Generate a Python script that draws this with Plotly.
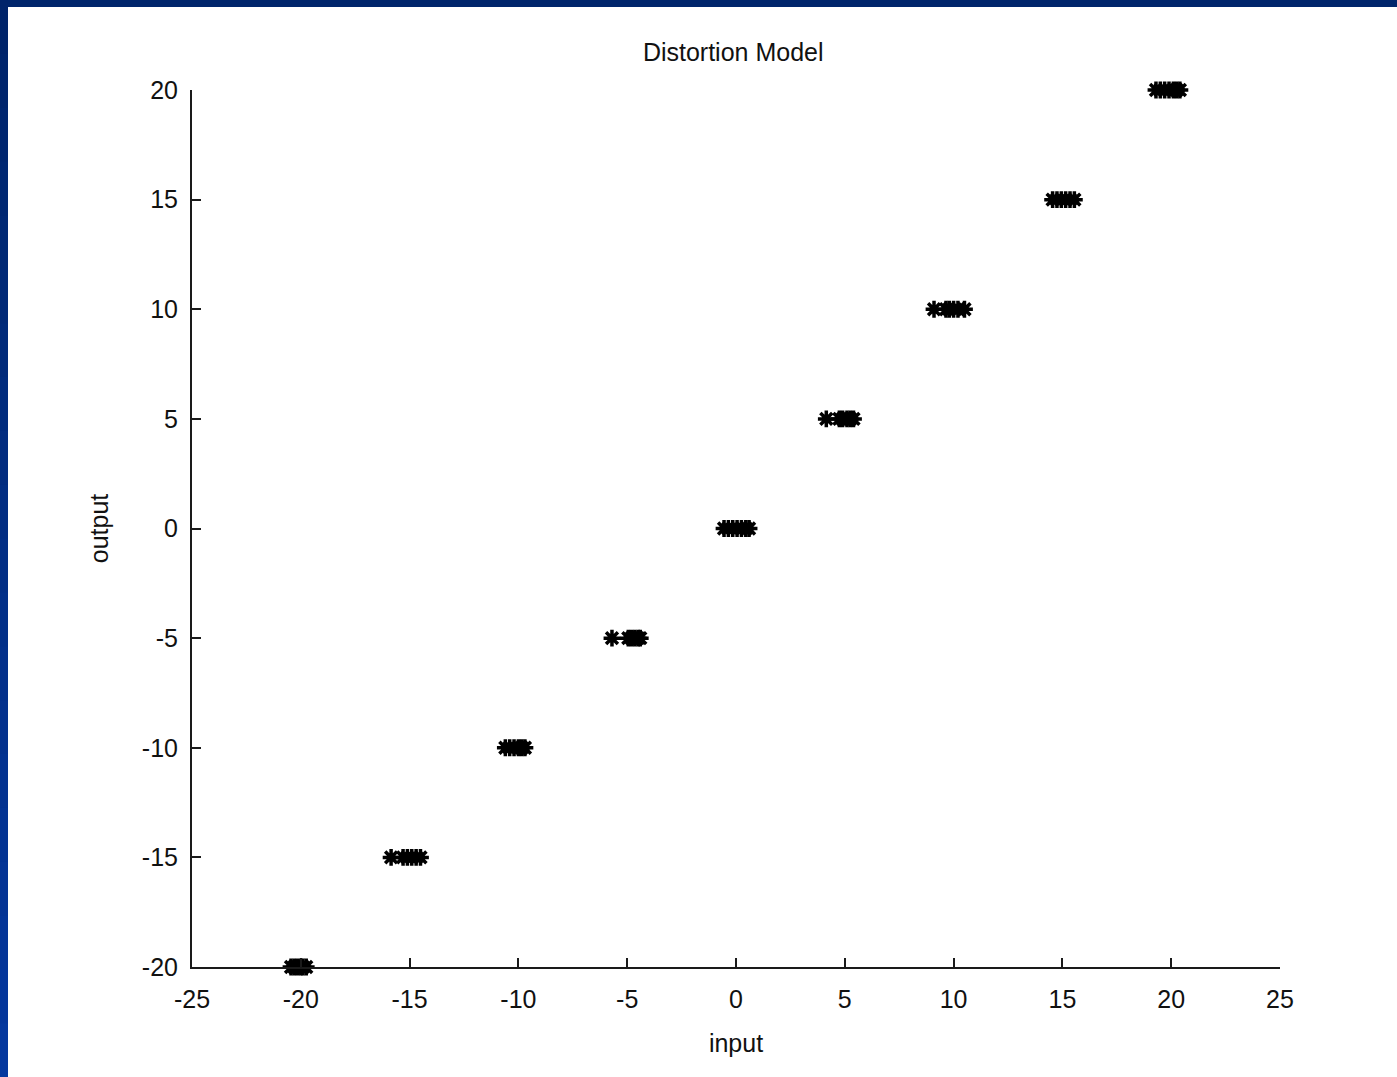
import plotly.graph_objects as go

# ---- data ----
levels = [-20, -15, -10, -5, 0, 5, 10, 15, 20]
x_m20 = [-20.45, -20.3, -20.15, -20.0, -19.9, -19.75]
x_m15 = [-15.85, -15.3, -15.1, -14.9, -14.7, -14.5]
x_m10 = [-10.6, -10.4, -10.2, -10.0, -9.85, -9.7]
x_m5 = [-5.7, -4.95, -4.8, -4.65, -4.5, -4.4]
x_0 = [-0.55, -0.35, -0.15, 0.05, 0.25, 0.45, 0.6]
x_5 = [4.15, 4.75, 4.9, 5.1, 5.25, 5.4]
x_10 = [9.1, 9.65, 9.8, 10.0, 10.2, 10.5]
x_15 = [14.55, 14.75, 14.95, 15.15, 15.35, 15.55]
x_20 = [19.3, 19.5, 19.7, 19.9, 20.1, 20.25, 20.4]
clusters = [x_m20, x_m15, x_m10, x_m5, x_0, x_5, x_10, x_15, x_20]

x_ticks = [-25, -20, -15, -10, -5, 0, 5, 10, 15, 20, 25]
y_ticks = [-20, -15, -10, -5, 0, 5, 10, 15, 20]

xs, ys = [], []
for lv, cx in zip(levels, clusters):
    xs += cx
    ys += [lv] * len(cx)

W, H = 1397, 1077
ML, MR, MT, MB = 192, 117, 90, 110
FONT = "Liberation Sans"

fig = go.Figure()
fig.add_trace(go.Scatter(
    x=xs, y=ys, mode="markers", cliponaxis=False,
    marker=dict(symbol="asterisk-open", size=14, color="black",
                line=dict(color="black", width=3.5)),
    showlegend=False,
))

axis_common = dict(
    showgrid=False, zeroline=False, showline=True, linecolor="#1a1a1a",
    linewidth=2, ticks="inside", ticklen=9, tickwidth=2, tickcolor="#1a1a1a",
    tickfont=dict(family=FONT, size=25, color="#111"), mirror=False,
)

fig.update_layout(
    width=W, height=H,
    margin=dict(l=ML, r=MR, t=MT, b=MB, pad=0),
    paper_bgcolor="white", plot_bgcolor="white",
    title=dict(text="Distortion Model", x=(ML + (W - MR)) / 2 / W - 0.002, xanchor="center",
               y=1 - 52 / H, yanchor="middle",
               font=dict(family=FONT, size=25, color="#111")),
    xaxis=dict(range=[-25, 25], tickvals=x_ticks, ticktext=[str(v) for v in x_ticks],
               ticklabelstandoff=9,
               title=dict(text="input", font=dict(family=FONT, size=25, color="#111"),
                          standoff=22), **axis_common),
    yaxis=dict(range=[-20, 20], tickvals=y_ticks, ticktext=[str(v) for v in y_ticks],
               ticklabelstandoff=7,
               title=dict(text="output", font=dict(family=FONT, size=25, color="#111"),
                          standoff=26), **axis_common),
)

# blue frame (top and left bands) with a gentle gradient
pw = W - ML - MR
ph = H - MT - MB
def px_x(p):
    return (p - ML) / pw
def px_y(p):
    return 1 - (p - MT) / ph

shapes = []
shapes.append(dict(type="rect", xref="paper", yref="paper",
                   x0=px_x(0), x1=px_x(W), y0=px_y(7), y1=px_y(0),
                   fillcolor="#00256b", line=dict(width=0), layer="above"))
n = 20
c0 = (0x00, 0x24, 0x6a)
c1 = (0x05, 0x38, 0x9e)
for i in range(n):
    t = i / (n - 1)
    col = "rgb(%d,%d,%d)" % tuple(int(a + (b - a) * t) for a, b in zip(c0, c1))
    y_top = i * H / n
    y_bot = (i + 1) * H / n + 1
    shapes.append(dict(type="rect", xref="paper", yref="paper",
                       x0=px_x(0), x1=px_x(8), y0=px_y(y_bot), y1=px_y(y_top),
                       fillcolor=col, line=dict(width=0), layer="above"))
fig.update_layout(shapes=shapes)

fig.write_html("out.html")
